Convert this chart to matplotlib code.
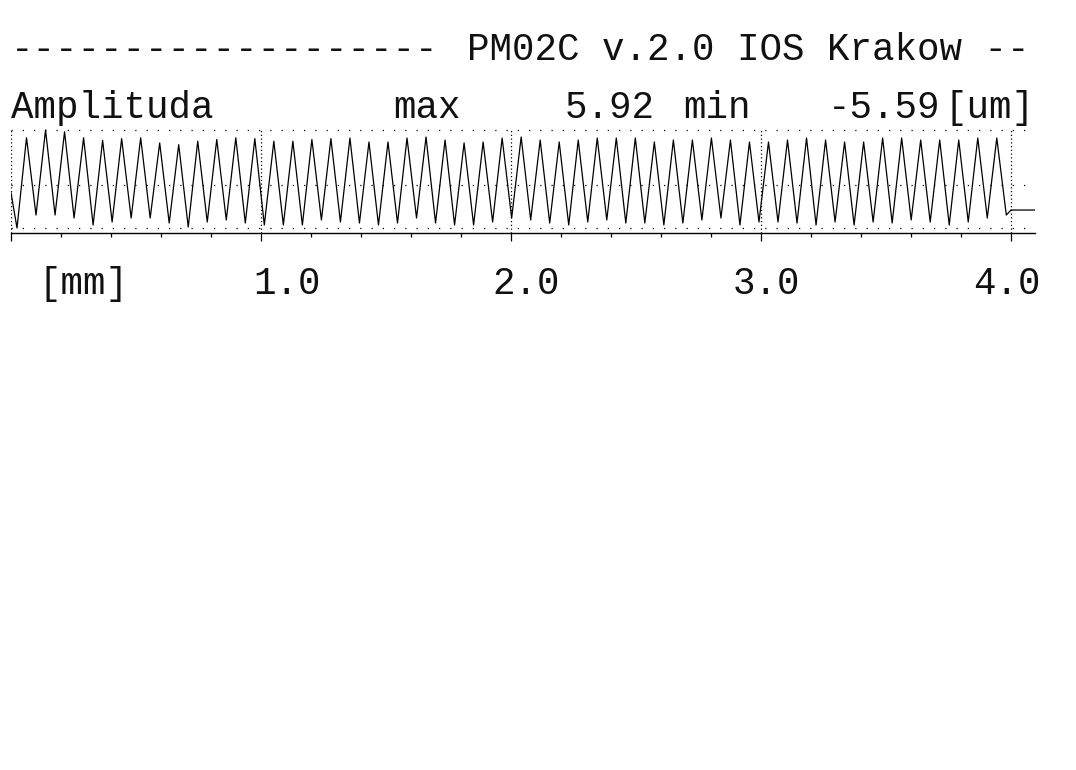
import numpy as np
import matplotlib
matplotlib.use("Agg")
import matplotlib.pyplot as plt

# profile extremes [um]
first_trough_mm = 0.024
pitch_mm = 0.0761
peaks_um = [4.9, 5.8, 5.6, 4.9, 4.6, 4.8, 4.9, 4.3, 4.1, 4.5, 4.7, 4.9, 4.8, 4.5, 4.5, 4.7, 4.8,
            4.87, 4.41, 4.41, 4.87, 4.99, 4.64, 4.3, 4.41, 4.87, 4.99, 4.64, 4.41, 4.64, 4.87,
            4.87, 4.87, 4.41, 4.64, 4.64,
            4.87, 4.64, 4.41, 4.41, 4.64, 4.87, 4.64, 4.41, 4.41, 4.87, 4.87, 4.64, 4.64, 4.64,
            4.87, 4.87]
troughs_um = [-5.59, -4.08, -4.08, -4.43, -5.24, -4.89, -4.43, -4.43, -5.01, -5.47, -4.89, -4.66,
              -5.01, -5.24, -5.24, -5.24, -4.66,
              -4.89, -5.01, -5.24, -5.01, -4.43, -5.01, -5.24, -5.24, -4.89, -4.43, -4.66, -5.01,
              -5.24, -4.89, -4.66, -5.01, -5.01, -5.24, -5.01,
              -4.66, -4.43, -5.24, -4.89, -4.89, -5.01, -5.24, -4.89, -5.24, -4.89, -5.01, -4.66,
              -4.89, -5.24, -4.89, -4.43, -4.08]
start_um = -1.5
end_level_um = -3.5
x_ticks = [1.0, 2.0, 3.0, 4.0]
x_labels = ["1.0", "2.0", "3.0", "4.0"]
label_px = [253, 492, 733, 973]
max_um, min_um = 5.92, -5.59

# build trace: alternating trough/peak
xs, ys = [0.0], [start_um]
for i, t in enumerate(troughs_um):
    xs.append(first_trough_mm + i * pitch_mm)
    ys.append(t)
    if i < len(peaks_um):
        xs.append(first_trough_mm + (i + 0.5) * pitch_mm)
        ys.append(peaks_um[i])
xs += [4.0, 4.096]
ys += [end_level_um, end_level_um]

W, H = 1076, 770
fig = plt.figure(figsize=(W / 100, H / 100), dpi=100)
ax = fig.add_axes([11 / W, 1 - 233 / H, 1024 / W, 104 / H])
ax.set_xlim(0, 4.096)
ax.set_ylim(-6.17, 5.92)
ax.plot(xs, ys, color="black", lw=0.9)

dots = (0, (1, 8))
for yv in [5.8, -0.59, -5.59]:
    ax.axhline(yv, color="black", lw=0.9, linestyle=dots)
for xv in [0.0] + x_ticks:
    ax.axvline(xv, color="black", lw=0.9, linestyle=(0, (1, 2)))

for s in ["top", "right", "left"]:
    ax.spines[s].set_visible(False)
ax.spines["bottom"].set_linewidth(1.0)
ax.set_yticks([])
ax.set_xticks([0.0] + x_ticks)
ax.set_xticklabels([])
ax.set_xticks(np.arange(0.2, 4.0, 0.2), minor=True)
ax.tick_params(axis="x", which="major", direction="out", length=6, width=0.9)
ax.tick_params(axis="x", which="minor", direction="out", length=3, width=0.9)

font = dict(family="Liberation Mono", fontsize=27, color="#111111")

def ptext(x, y, s):
    fig.text(x / W, 1 - y / H, s, va="baseline", ha="left", **font)

ptext(11, 60, "-------------------")
ptext(467, 60, "PM02C v.2.0 IOS Krakow --")
ptext(11, 118, "Amplituda")
ptext(393, 118, "max")
ptext(565, 118, f"{max_um:.2f}")
ptext(683, 118, "min")
ptext(828, 118, f"{min_um:.2f}")
ptext(945, 118, "[um]")
ptext(38, 294, "[mm]")
for xp, lab in zip(label_px, x_labels):
    ptext(xp, 294, lab)

fig.savefig("out.png", dpi=100, facecolor="white")
